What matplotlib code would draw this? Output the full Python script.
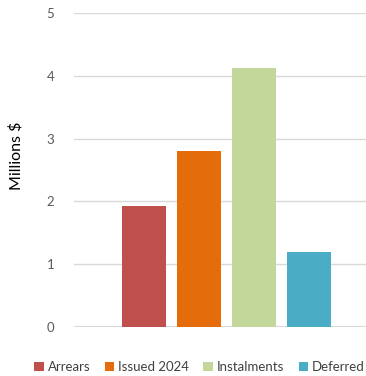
import matplotlib.pyplot as plt
from matplotlib.patches import Patch

# data
categories = ["Arrears", "Issued 2024", "Instalments", "Deferred"]
values = [1.93, 2.80, 4.13, 1.19]
colors = ["#C0504D", "#E46C0A", "#C4D79B", "#4BACC6"]
yticks = [0, 1, 2, 3, 4, 5]

plt.rcParams['font.family'] = ['Lato', 'DejaVu Sans']

fig = plt.figure(figsize=(3.66, 3.76), dpi=100)
ax = fig.add_axes([0.202, 0.131, 0.798, 0.8336])

x = list(range(len(categories)))
ax.bar(x, values, width=0.8, color=colors, zorder=3)

ax.set_xlim(-1.273, 4.036)
ax.set_ylim(0, 5)
ax.set_yticks(yticks)
ax.set_yticklabels([str(t) for t in yticks], color="#595959", fontsize=9.5)
ax.set_xticks([])
ax.tick_params(axis='y', length=0, pad=14)
ax.grid(axis='y', color="#D9D9D9", linewidth=1, zorder=0)
ax.axhline(0, color="#D9D9D9", linewidth=1.5, zorder=1)
for s in ax.spines.values():
    s.set_visible(False)
ax.set_ylabel("Millions $", fontsize=11.5, color="#000000")
ax.yaxis.set_label_coords(-0.171, 0.545)

handles = [Patch(facecolor=c, label=l) for c, l in zip(colors, categories)]
fig.legend(handles=handles, loc='center', bbox_to_anchor=(0.545, 0.024), ncol=4,
           frameon=False, fontsize=9.5, handlelength=0.7, handleheight=0.7,
           handletextpad=0.3, columnspacing=1.1, labelcolor="#404040")

fig.savefig("out.png", dpi=100)
